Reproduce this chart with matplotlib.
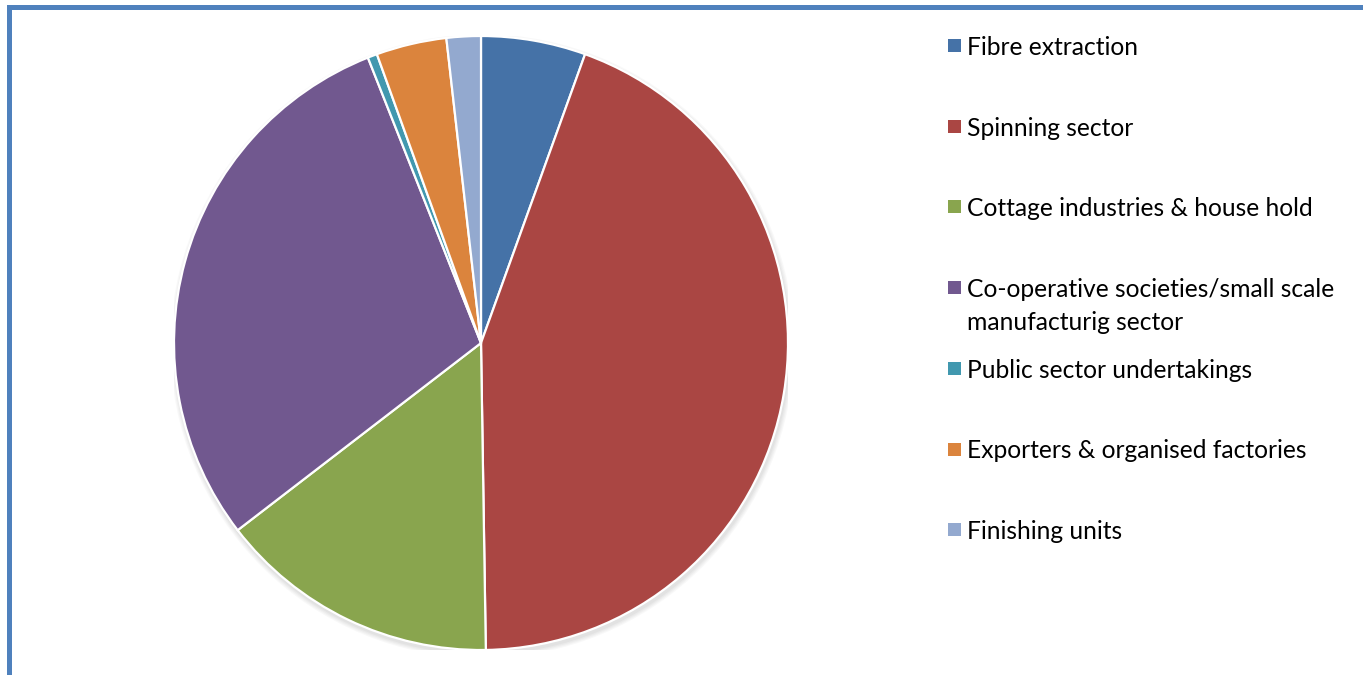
import matplotlib
matplotlib.use("Agg")
import matplotlib.pyplot as plt
from matplotlib.patches import Rectangle, Circle

# Share of each sector (per cent)
categories = [
    "Fibre extraction",
    "Spinning sector",
    "Cottage industries & house hold",
    "Co-operative societies/small scale\nmanufacturig sector",
    "Public sector undertakings",
    "Exporters & organised factories",
    "Finishing units",
]
shares = [5.5, 44.2, 14.8, 29.4, 0.5, 3.7, 1.8]
colors = ["#4572A7", "#AA4643", "#89A54E", "#71588F", "#4198AF", "#DB843D", "#93A9CF"]

W, H = 1363, 675
fig = plt.figure(figsize=(W / 100, H / 100), dpi=100)
fig.patch.set_facecolor("white")


def px(x, y):
    """Pixel position (from top-left) to figure fraction."""
    return x / W, 1 - y / H


# Blue frame along the top and left edges
border = "#4F81BD"
fig.add_artist(Rectangle(px(7, 10), (W - 7) / W, 5 / H, transform=fig.transFigure,
                         color=border, lw=0))
fig.add_artist(Rectangle(px(7, H), 5 / W, (H - 5) / H, transform=fig.transFigure,
                         color=border, lw=0))

# Pie area
cx, cy, r = 481, 343, 307
ax = fig.add_axes([(cx - r) / W, (H - cy - r) / H, 2 * r / W, 2 * r / H])
ax.set_xlim(-1.0, 1.0)
ax.set_ylim(-1.0, 1.0)
ax.axis("off")

# Soft drop shadow under the pie
for i, a in enumerate([0.05, 0.05, 0.06, 0.07]):
    grow = 0.016 - i * 0.004
    ax.add_patch(Circle((0.004, -0.010), 1.0 + grow, color="#808080", alpha=a, lw=0, zorder=0))

wedges, _ = ax.pie(
    shares,
    colors=colors,
    startangle=90,
    counterclock=False,
    radius=1.0,
    wedgeprops=dict(edgecolor="white", linewidth=1.6),
)
for w in wedges:
    w.set_zorder(2)
ax.set_xlim(-1.0, 1.0)
ax.set_ylim(-1.0, 1.0)
ax.set_aspect("equal")

# Legend drawn row by row
font = "Lato"
row0, step = 45.5, 80.7
for i, (label, col) in enumerate(zip(categories, colors)):
    yc = row0 + step * i
    fig.add_artist(Rectangle(px(948, yc + 6.5), 13 / W, 13 / H, transform=fig.transFigure,
                             color=col, lw=0))
    fig.text(967 / W, 1 - (yc - 9.5) / H, label, fontsize=17.7, family=font,
             color="black", va="top", ha="left", linespacing=1.5)

fig.savefig("out.png", dpi=100, facecolor="white")
